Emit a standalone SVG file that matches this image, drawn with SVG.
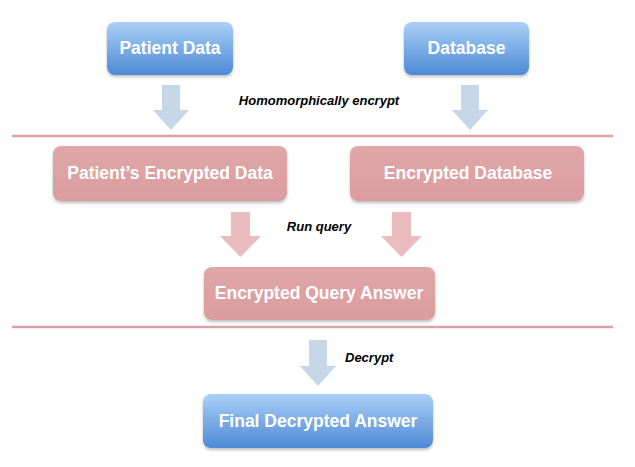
<svg xmlns="http://www.w3.org/2000/svg" width="635" height="467" viewBox="0 0 635 467">
<defs>
<linearGradient id="blueGrad" x1="0" y1="0" x2="0" y2="1">
<stop offset="0" stop-color="#acd0f6"/>
<stop offset="1" stop-color="#4c89d6"/>
</linearGradient>
<linearGradient id="pinkGrad" x1="0" y1="0" x2="0" y2="1">
<stop offset="0" stop-color="#e0a6a8"/>
<stop offset="1" stop-color="#da9d9f"/>
</linearGradient>
<filter id="shadow" x="-10%" y="-20%" width="120%" height="150%">
<feDropShadow dx="0" dy="2" stdDeviation="1.5" flood-color="#000" flood-opacity="0.25"/>
</filter>
</defs>
<style>
.blue{fill:url(#blueGrad);filter:url(#shadow)}
.pink{fill:url(#pinkGrad);filter:url(#shadow)}
.lbl{font-family:"Liberation Sans",Arial,sans-serif;font-weight:bold;font-size:17.5px;fill:#ffffff;text-anchor:middle}
.note{font-family:"Liberation Sans",Arial,sans-serif;font-weight:bold;font-style:italic;font-size:13px;fill:#000000}
.sep{stroke:#d9a3a6;stroke-width:2.5;fill:none}
.barrow{fill:#c6d7ea}
.parrow{fill:#ebbcbd}
</style>
<rect width="635" height="467" fill="#ffffff"/>
<g id="separators">
<line class="sep" x1="12" y1="136" x2="613" y2="136"/>
<line class="sep" x1="12" y1="327" x2="613" y2="327"/>
</g>
<g id="connectors">
<polygon class="barrow" points="162,85 180,85 180,110 189,110 171,130 153,110 162,110"/>
<polygon class="barrow" points="461,85 479,85 479,110 488,110 470,130 452,110 461,110"/>
<polygon class="parrow" points="231,212 250,212 250,236 261,236 240.5,257 220,236 231,236"/>
<polygon class="parrow" points="392,212 411,212 411,236 422,236 401.5,257 381,236 392,236"/>
<polygon class="barrow" points="309,340 327,340 327,366 336,366 318,386 300,366 309,366"/>
</g>
<g id="label-encrypt"><text class="note" x="319" y="105" text-anchor="middle">Homomorphically encrypt</text></g>
<g id="label-query"><text class="note" x="319" y="231" text-anchor="middle">Run query</text></g>
<g id="label-decrypt"><text class="note" x="345" y="362">Decrypt</text></g>
<g id="node-patient-data">
<rect class="blue" x="107" y="22" width="126" height="53" rx="8"/>
<text class="lbl" x="170" y="54">Patient Data</text>
</g>
<g id="node-database">
<rect class="blue" x="404" y="22" width="125" height="53" rx="8"/>
<text class="lbl" x="466.5" y="54">Database</text>
</g>
<g id="node-patient-encrypted">
<rect class="pink" x="53" y="146" width="234" height="55" rx="8"/>
<text class="lbl" x="170" y="179">Patient’s Encrypted Data</text>
</g>
<g id="node-encrypted-database">
<rect class="pink" x="350" y="146" width="234" height="55" rx="8"/>
<text class="lbl" x="468" y="179">Encrypted Database</text>
</g>
<g id="node-query-answer">
<rect class="pink" x="204" y="267" width="231" height="53" rx="8"/>
<text class="lbl" x="319" y="299">Encrypted Query Answer</text>
</g>
<g id="node-final">
<rect class="blue" x="203" y="394" width="230" height="54" rx="8"/>
<text class="lbl" x="318" y="427">Final Decrypted Answer</text>
</g>
</svg>
